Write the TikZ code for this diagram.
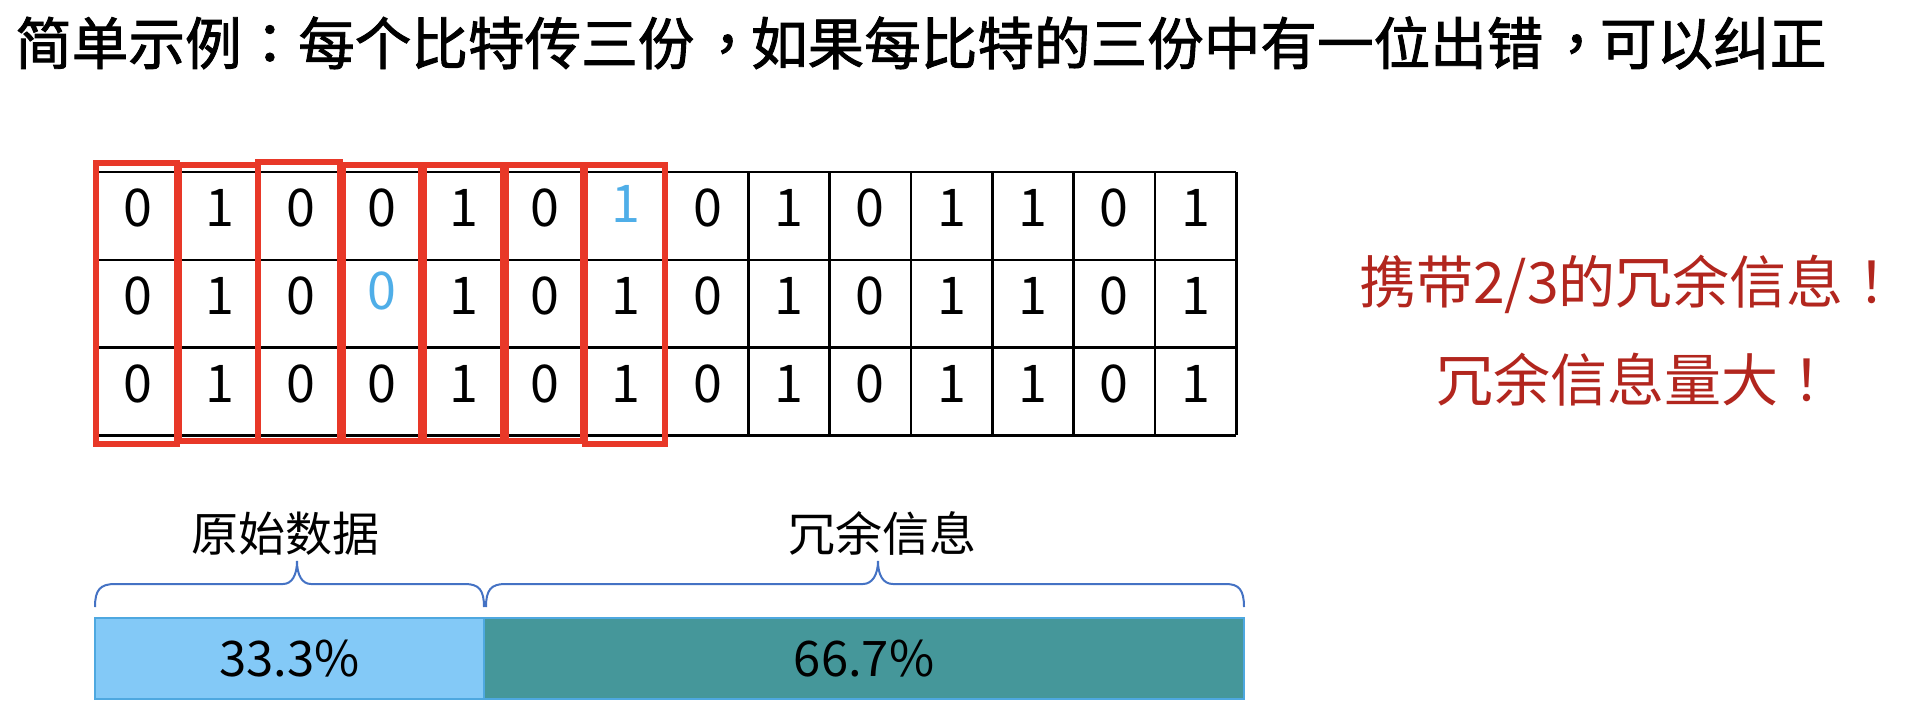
\documentclass[tikz,border=0pt]{standalone}
\usepackage{fontspec}
\setmainfont{Noto Sans CJK SC}
\newfontfamily\titlefont{Noto Sans CJK SC}[FakeBold=1.6]
\newfontfamily\titlepunct{Noto Sans CJK TC}[FakeBold=1.6]
\newfontfamily\tcpunct{Noto Sans CJK TC}
\newcommand\tcomma{{\titlepunct\kern0.08em，\kern-0.08em}}
\definecolor{redline}{RGB}{232,56,40}
\definecolor{bluedigit}{RGB}{79,174,232}
\definecolor{darkred}{RGB}{178,38,30}
\definecolor{braceblue}{RGB}{68,114,196}
\definecolor{barlight}{RGB}{131,201,247}
\definecolor{barteal}{RGB}{69,151,154}
\definecolor{baredge}{RGB}{78,168,224}
\begin{document}
\begin{tikzpicture}[x=1pt,y=-1pt,
  gridline/.style={line width=2.5pt,black},
  digit/.style={inner sep=0pt,font=\fontsize{52}{54}\selectfont},
  bluedig/.style={digit,text=bluedigit},
  redbox/.style={draw=redline,line width=6pt},
  note/.style={inner sep=0pt,anchor=west,text=darkred,font=\fontsize{57}{59}\selectfont},
  label/.style={inner sep=0pt,font=\fontsize{47}{49}\selectfont},
  brace/.style={draw=braceblue,line width=2pt},
  barbox/.style={draw=baredge,line width=2.5pt,inner sep=0pt,minimum height=81pt,font=\fontsize{49}{51}\selectfont}
]
\useasboundingbox (0,0) rectangle (1912,716);
\fill[white] (0,0) rectangle (1912,716);

% title
\node[inner sep=0pt,anchor=west,font=\fontsize{56.6}{60}\titlefont] (title) at (15,43)
  {简单示例{\titlepunct ：}每个比特传三份\tcomma 如果每比特的三份中有一位出错\tcomma 可以纠正};

% grid
\foreach \i in {0,...,14}
  \draw[gridline] ({97.5+81.35*\i},172) -- ({97.5+81.35*\i},435.4);
\foreach \j in {0,...,3}
  \draw[gridline] (97.5,{172+87.8*\j}) -- (1236.4,{172+87.8*\j});

% digits
\foreach \v [count=\c from 0] in {0,1,0,0,1,0,1,0,1,0,1,1,0,1}{
  \ifnum\c=6\else
    \node[digit] (a\c) at ({97.5+81.35*(\c+0.5)},208) {\v};
  \fi
  \ifnum\c=3\else
    \node[digit] (b\c) at ({97.5+81.35*(\c+0.5)},296) {\v};
  \fi
  \node[digit] (c\c) at ({97.5+81.35*(\c+0.5)},383.5) {\v};
}
\node[bluedig] (a6) at ({97.5+81.35*6.5},204) {1};
\node[bluedig] (b3) at ({97.5+81.35*3.5},291) {0};

% red column boxes
\draw[redbox] (96,163) rectangle (176.5,443.5);
\draw[redbox] (179,164.5) rectangle (257.5,440.5);
\draw[redbox] (258,161.5) rectangle (339.5,440.5);
\draw[redbox] (342.5,164.5) rectangle (421,440.5);
\draw[redbox] (424,164.5) rectangle (502.5,440.5);
\draw[redbox] (505.5,164.5) rectangle (583,440.5);
\draw[redbox] (585,164.5) rectangle (665,443.5);

% right notes
\node[note] (n1) at (1359,284) {携带2/3的冗余信息{\tcpunct ！}};
\node[note] (n2) at (1436,380) {冗余信息量大{\tcpunct ！}};

% labels
\node[label] (l1) at (285,534) {原始数据};
\node[label] (l2) at (882,533) {冗余信息};

% braces
\draw[brace] (95,607) .. controls (95,590) and (100,584) .. (115,584) -- (283,584)
  .. controls (292,584) and (297,575) .. (297,561)
  .. controls (297,575) and (302,584) .. (311,584) -- (465,584)
  .. controls (479,584) and (484,590) .. (484,607);
\draw[brace] (486,607) .. controls (486,590) and (491,584) .. (505,584) -- (863,584)
  .. controls (872,584) and (878,575) .. (878,561)
  .. controls (878,575) and (883,584) .. (893,584) -- (1226,584)
  .. controls (1239,584) and (1244,590) .. (1244,607);

% bar
\node[barbox,fill=barlight,minimum width=389pt] (pa) at (289.5,658.5) {33.3\%};
\node[barbox,fill=barteal,minimum width=760pt] (pb) at (864,658.5) {66.7\%};
\end{tikzpicture}
\end{document}
